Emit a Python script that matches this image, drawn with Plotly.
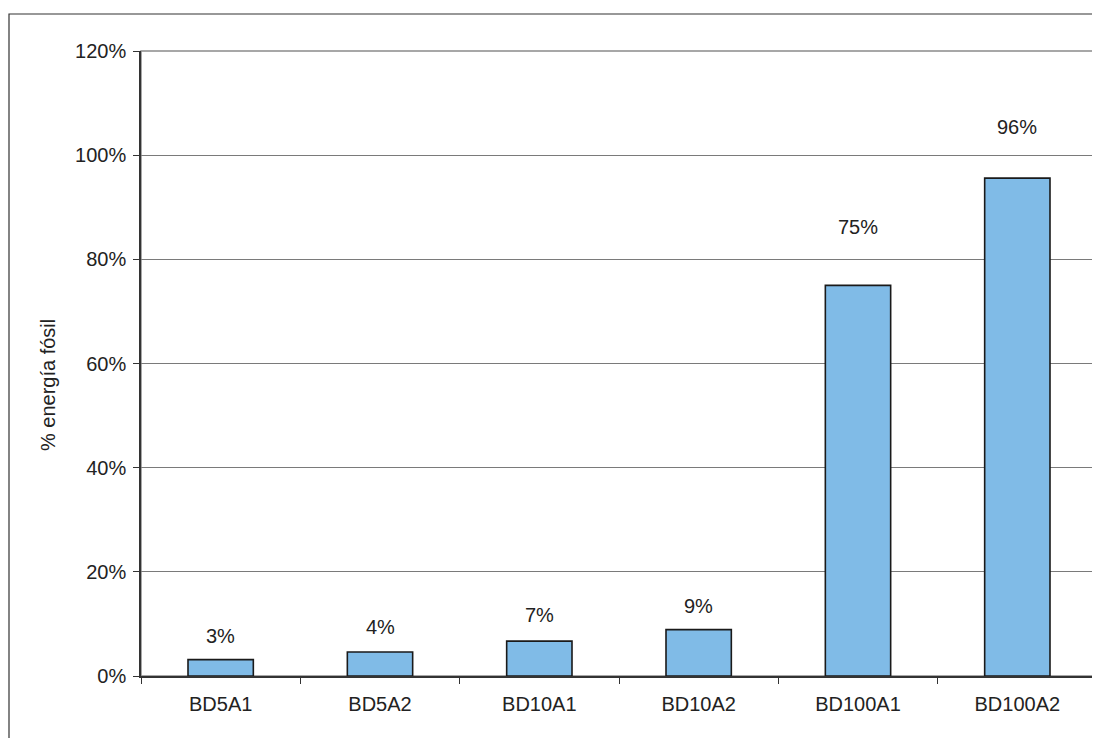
import plotly.graph_objects as go

categories = ["BD5A1", "BD5A2", "BD10A1", "BD10A2", "BD100A1", "BD100A2"]
values = [3.15, 4.6, 6.7, 8.9, 75.0, 95.6]
labels = ["3%", "4%", "7%", "9%", "75%", "96%"]
y_ticks = [0, 20, 40, 60, 80, 100, 120]
y_tick_text = ["0%", "20%", "40%", "60%", "80%", "100%", "120%"]

label_shift = [24, 25, 26, 24, 58, 51]

FONT = "Liberation Sans, Arial, sans-serif"
TXT = "#222222"
FS = 20

fig = go.Figure()
fig.add_trace(go.Bar(
    x=categories, y=values,
    marker=dict(color="#80BBE7", line=dict(color="#1a1a1a", width=1.6)),
    hoverinfo="skip",
))

for c, v, t, s in zip(categories, values, labels, label_shift):
    fig.add_annotation(x=c, y=v, text=t, showarrow=False, yanchor="middle",
                       yshift=s, font=dict(family=FONT, size=FS, color=TXT))

fig.add_annotation(xref="paper", yref="paper", x=-0.098, y=0.466,
                   text="% energía fósil", textangle=-90, showarrow=False,
                   xanchor="center", yanchor="middle",
                   font=dict(family=FONT, size=FS, color=TXT))

# plot area border (gray)
fig.add_shape(type="rect", xref="paper", yref="paper", x0=0, x1=1, y0=0, y1=1,
              line=dict(color="#8a8a8a", width=1.5), layer="below")
# chart area border
fig.add_shape(type="rect", xref="paper", yref="paper",
              x0=(9 - 141) / 956, x1=1.05, y0=-0.2, y1=(676 - 14) / 625,
              line=dict(color="#333333", width=1.2), layer="above")

fig.update_layout(
    width=1100, height=738,
    margin=dict(l=133, r=11, t=43, b=70),
    paper_bgcolor="white", plot_bgcolor="white",
    showlegend=False, bargap=0.59,
    font=dict(family=FONT, size=FS, color=TXT),
)
fig.update_xaxes(
    type="category", showline=True, linecolor="#333333", linewidth=1.5,
    ticks="outside", tickson="boundaries", ticklen=6, tickcolor="#333333",
    showgrid=False, ticklabelstandoff=9,
    tickfont=dict(family=FONT, size=FS, color=TXT),
)
fig.update_yaxes(
    range=[0, 120], tickvals=y_ticks, ticktext=y_tick_text,
    showline=True, linecolor="#333333", linewidth=1.5,
    ticks="outside", ticklen=6, tickcolor="#333333",
    showgrid=True, gridcolor="#7a7a7a", gridwidth=1, zeroline=False,
    ticklabelstandoff=3, tickfont=dict(family=FONT, size=FS, color=TXT),
)

fig.write_html("out.html")
